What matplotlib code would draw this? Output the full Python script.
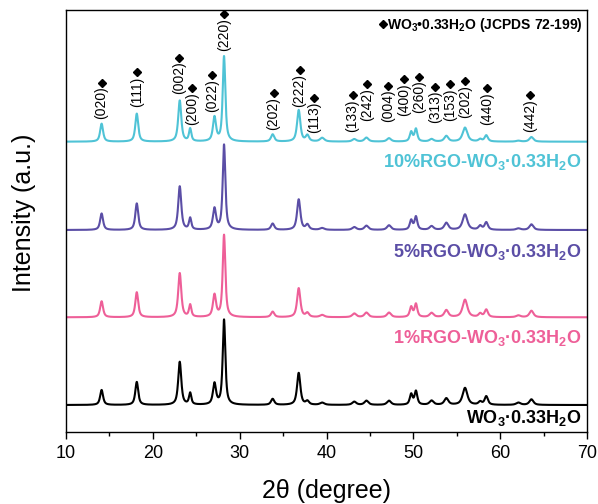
import numpy as np
import matplotlib
matplotlib.use("Agg")
import matplotlib.pyplot as plt

plt.rcParams['font.family'] = ['Liberation Sans', 'DejaVu Sans']
plt.rcParams['mathtext.fontset'] = 'custom'
plt.rcParams['mathtext.rm'] = 'Liberation Sans'
plt.rcParams['mathtext.bf'] = 'Liberation Sans:bold'

# peak positions (2theta, degree) shared by all samples
peak_pos = [14.1, 18.15, 23.1, 24.3, 27.1, 28.2, 33.8, 36.8, 37.8, 39.5, 43.2,
            44.6, 47.2, 49.75, 50.3, 52.1, 53.8, 55.95, 57.7, 58.4, 62.1, 63.6]
peak_fwhm = [0.4, 0.4, 0.42, 0.32, 0.42, 0.36, 0.45, 0.45, 0.45, 0.6, 0.55,
             0.55, 0.55, 0.38, 0.38, 0.55, 0.55, 0.65, 0.45, 0.45, 0.6, 0.55]

# peak heights (a.u.)
h_pure = [15, 23, 43, 11.5, 21, 85, 6, 32, 3.5, 2.2, 3.2,
          4.2, 4.2, 10.5, 13.5, 4.2, 6.5, 17, 3, 8.5, 2.3, 5.6]
h_1 = [16, 25, 44, 12, 22, 82, 5.5, 29, 4, 2.2, 3.7,
       4.6, 4.6, 10, 13, 4.2, 7, 17.5, 3.5, 7.5, 1.8, 6.5]
h_5 = [16.5, 26.5, 43.5, 11.5, 21, 85, 6.3, 30.5, 5, 1.8, 2.8,
       4.2, 4.6, 9.5, 13, 3.7, 7, 15.5, 4, 7.5, 1.5, 5.6]
h_10 = [18, 28, 41, 12.5, 24, 85, 7.2, 31.5, 6, 3.7, 2.5,
        4, 3.4, 9.5, 12.5, 2.5, 5.6, 14, 2.3, 6.2, 0.9, 4.6]

sample_names = [r'WO$_\mathbf{3}$·0.33H$_\mathbf{2}$O',
                r'1%RGO-WO$_\mathbf{3}$·0.33H$_\mathbf{2}$O',
                r'5%RGO-WO$_\mathbf{3}$·0.33H$_\mathbf{2}$O',
                r'10%RGO-WO$_\mathbf{3}$·0.33H$_\mathbf{2}$O']
sample_heights = [h_pure, h_1, h_5, h_10]

# (hkl) labels above the top pattern
hkl = ['(020)', '(111)', '(002)', '(200)', '(022)', '(220)', '(202)', '(222)',
       '(113)', '(133)', '(242)', '(004)', '(400)', '(260)', '(313)', '(153)',
       '(202)', '(440)', '(442)']
hkl_pos = [14.1, 18.2, 23.05, 24.55, 26.8, 28.24, 33.9, 36.9, 38.6, 43.0,
           44.64, 47.13, 48.98, 50.67, 52.5, 54.2, 55.93, 58.47, 63.46]
hkl_lift = [22.4, 35, 47.4, 16.7, 30, 91, 11.7, 35, 8.7, 10, 20.7, 19.4,
            25.7, 28.4, 18.7, 21, 23.4, 16.7, 10]

colors = ['#000000', '#EE5F98', '#5B4EA6', '#4FC3D6']
offsets = [27.3, 115, 202.3, 290.6]
label_y = [14.5, 94.5, 180.5, 270]


def pattern(x, heights, eta=0.75):
    y = np.zeros_like(x)
    for c, w, h in zip(peak_pos, peak_fwhm, heights):
        lor = 1.0 / (1.0 + ((x - c) / (w / 2)) ** 2)
        gau = np.exp(-4 * np.log(2) * ((x - c) / w) ** 2)
        y += h * (eta * lor + (1 - eta) * gau)
    return y


x = np.linspace(10, 70, 3001)

fig = plt.figure(figsize=(5.98, 5.04), dpi=100)
ax = fig.add_axes([66 / 598, 1 - 432.3 / 504, 521 / 598, 422.3 / 504])
ax.set_xlim(10, 70)
ax.set_ylim(0, 422.3)

for name, hs, col, off, ly in zip(sample_names, sample_heights, colors,
                                  offsets, label_y):
    ax.plot(x, pattern(x, hs) + off, color=col, lw=1.5)
    ax.text(69.4, ly, name, color=col, fontsize=13, fontweight='bold',
            ha='right', va='center')

hkl_texts = []
for lab, px, lift in zip(hkl, hkl_pos, hkl_lift):
    hkl_texts.append(ax.text(px, offsets[3] + lift, lab, rotation=90,
                             fontsize=10, ha='center', va='bottom'))

ref = ax.text(0.992, 0.9645,
              r'WO$_\mathbf{3}$•0.33H$_\mathbf{2}$O (JCPDS 72-199)',
              transform=ax.transAxes, fontsize=10, fontweight='bold',
              ha='right', va='center')

ax.set_yticks([])
ax.set_xticks(range(10, 71, 10))
ax.set_xticks(range(15, 70, 10), minor=True)
ax.tick_params(axis='x', which='major', direction='out', length=5, width=1,
               labelsize=13, pad=4)
ax.tick_params(axis='x', which='minor', direction='out', length=3, width=1)
for sp in ax.spines.values():
    sp.set_linewidth(1.0)

ax.set_xlabel('2θ (degree)', fontsize=18)
ax.xaxis.set_label_coords(0.5, -0.11)
ax.set_ylabel('Intensity (a.u.)', fontsize=18)
ax.yaxis.set_label_coords(-0.058, 0.52)

# diamond markers: placed next to the rendered text boxes
fig.canvas.draw()
inv = ax.transData.inverted()
for t in hkl_texts:
    bb = t.get_window_extent()
    mx, my = inv.transform(((bb.x0 + bb.x1) / 2, bb.y1 + 4))
    ax.plot(mx, my, marker='D', ms=4, color='k', mec='k', clip_on=False)
bb = ref.get_window_extent()
mx, my = inv.transform((bb.x0 - 4, (bb.y0 + bb.y1) / 2 + 1))
ax.plot(mx, my, marker='D', ms=4, color='k', mec='k', clip_on=False)

fig.savefig('out.png', dpi=100)
